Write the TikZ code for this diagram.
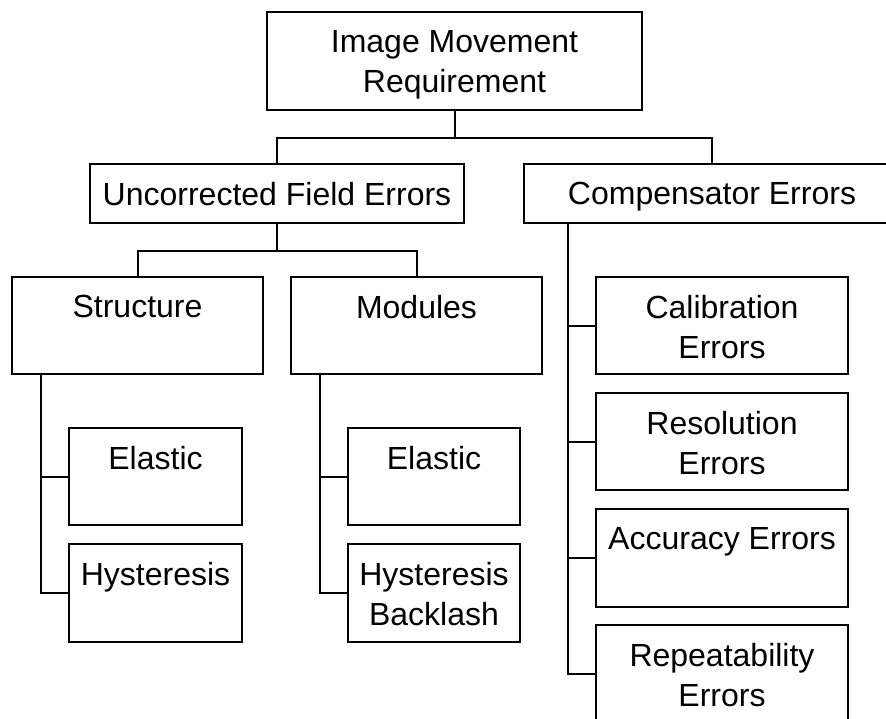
\documentclass[tikz,border=0pt]{standalone}
\usepackage{fontspec}
\setmainfont{Liberation Sans}
\begin{document}
\begin{tikzpicture}[x=0.5pt,y=-0.5pt,line width=1pt]
\tikzset{box/.style 2 args={draw,inner sep=0pt,anchor=north west,
  minimum width=#1*0.5pt,minimum height=#2*0.5pt},
  txt/.style={label={[anchor=north,yshift=-9pt,inner sep=0pt,align=center,
  font=\fontsize{16}{20}\selectfont]north:#1}}}
\useasboundingbox (0,0) rectangle (886,718);
\clip (0,0) rectangle (886,718);
\node (top) at (266,11) [box={375}{98},txt={Image Movement\\Requirement}] {};
\node (unc) at (89,163) [box={374}{59},txt={Uncorrected Field Errors}] {};
\node (comp) at (523,163) [box={376}{59},txt={Compensator Errors}] {};
\node (struct) at (11,276) [box={251}{97},txt={Structure}] {};
\node (mod) at (290,276) [box={251}{97},txt={Modules}] {};
\node (selastic) at (68,427) [box={173}{97},txt={Elastic}] {};
\node (shyst) at (68,543) [box={173}{98},txt={Hysteresis}] {};
\node (melastic) at (347,427) [box={172}{97},txt={Elastic}] {};
\node (mhyst) at (347,543) [box={172}{98},txt={Hysteresis\\Backlash}] {};
\node (cal) at (595,276) [box={252}{97},txt={Calibration\\Errors}] {};
\node (res) at (595,392) [box={252}{97},txt={Resolution\\Errors}] {};
\node (acc) at (595,508) [box={252}{98},txt={Accuracy Errors}] {};
\node (rep) at (595,624) [box={252}{98},txt={Repeatability\\Errors}] {};
\draw
(top.south) -- ++(0,27) -| (unc.north)
(top.south) -- ++(0,27) -| (comp.north)
(unc.south) -- ++(0,27) -| (struct.north)
(unc.south) -- ++(0,27) -| (mod.north)
([xshift=15pt]struct.south west) |- (selastic.west)
([xshift=15pt]struct.south west) |- (shyst.west)
([xshift=15pt]mod.south west) |- (melastic.west)
([xshift=15pt]mod.south west) |- (mhyst.west)
([xshift=22.5pt]comp.south west) |- (cal.west)
([xshift=22.5pt]comp.south west) |- (res.west)
([xshift=22.5pt]comp.south west) |- (acc.west)
([xshift=22.5pt]comp.south west) |- (rep.west)
;
\end{tikzpicture}
\end{document}
